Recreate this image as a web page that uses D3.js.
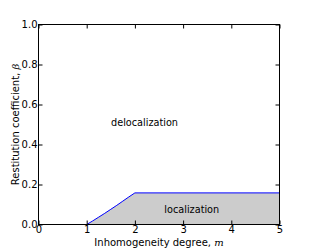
<!DOCTYPE html>
<html><head><meta charset="utf-8">
<script src="https://d3js.org/d3.v7.min.js"></script>
<style>body{margin:0;background:#fff}</style>
</head><body>
<script>
const boundaryM = [1, 1.125, 1.25, 1.375, 1.5, 1.625, 1.75, 1.875, 2, 5];
const boundaryBeta = [0, 0.018, 0.037, 0.056, 0.076, 0.096, 0.117, 0.138, 0.158, 0.158];
const xTicks = [0, 1, 2, 3, 4, 5];
const yTicks = [0.0, 0.2, 0.4, 0.6, 0.8, 1.0];
const regionLabels = ["delocalization", "localization"];
const regionM = [2.2, 3.18];
const regionBeta = [0.51, 0.075];

const W = 310, H = 250;
const m = {l: 38.5, t: 24.5, r: 30.5, b: 25.5};
const svg = d3.select("body").append("svg").attr("width", W).attr("height", H);
const x = d3.scaleLinear().domain([0, 5]).range([m.l, W - m.r]);
const y = d3.scaleLinear().domain([0, 1]).range([H - m.b, m.t]);
const pts = boundaryM.map((v, i) => [v, boundaryBeta[i]]);

svg.append("path").datum(pts)
  .attr("d", d3.area().x(d => x(d[0])).y0(y(0)).y1(d => y(d[1])))
  .attr("fill", "#cccccc").attr("stroke", "none");
svg.append("path").datum(pts)
  .attr("d", d3.line().x(d => x(d[0])).y(d => y(d[1])))
  .attr("fill", "none").attr("stroke", "#0000ff").attr("stroke-width", 1);

const font = "DejaVu Sans";
const fmt = d3.format(".1f");
const ax = (g) => g.call(s => s.select(".domain").remove())
  .call(s => s.selectAll("line").attr("stroke", "#000"))
  .call(s => s.selectAll("text").attr("font-family", font).attr("font-size", 10).attr("fill", "#000"));

svg.append("g").attr("transform", `translate(0,${H - m.b})`)
  .call(d3.axisBottom(x).tickValues(xTicks).tickSize(-4).tickPadding(1).tickFormat(d3.format("d"))).call(ax);
svg.append("g").attr("transform", `translate(0,${m.t})`)
  .call(d3.axisTop(x).tickValues(xTicks).tickSize(-4).tickFormat("")).call(ax);
svg.append("g").attr("transform", `translate(${m.l},0)`)
  .call(d3.axisLeft(y).tickValues(yTicks).tickSize(-4).tickPadding(1).tickFormat(fmt)).call(ax);
svg.append("g").attr("transform", `translate(${W - m.r},0)`)
  .call(d3.axisRight(y).tickValues(yTicks).tickSize(-4).tickFormat("")).call(ax);

svg.append("rect").attr("x", m.l).attr("y", m.t).attr("width", W - m.l - m.r).attr("height", H - m.t - m.b)
  .attr("fill", "none").attr("stroke", "#000").attr("stroke-width", 1);

regionLabels.forEach((t, i) => {
  svg.append("text").attr("x", x(regionM[i])).attr("y", y(regionBeta[i]))
    .attr("text-anchor", "middle").attr("dominant-baseline", "central")
    .attr("font-family", font).attr("font-size", 9.7).text(t);
});

const xl = svg.append("text").attr("x", (m.l + W - m.r) / 2).attr("y", 245.5)
  .attr("text-anchor", "middle").attr("font-family", font).attr("font-size", 10);
xl.append("tspan").text("Inhomogeneity degree, ");
xl.append("tspan").attr("font-style", "italic").attr("font-family", "DejaVu Serif").text("m");

const yl = svg.append("text").attr("transform", `translate(18.5,${(m.t + H - m.b) / 2}) rotate(-90)`)
  .attr("text-anchor", "middle").attr("font-family", font).attr("font-size", 10);
yl.append("tspan").text("Restitution coefficient, ");
yl.append("tspan").attr("font-style", "italic").attr("font-family", "DejaVu Serif").text("β");
</script>
</body></html>
